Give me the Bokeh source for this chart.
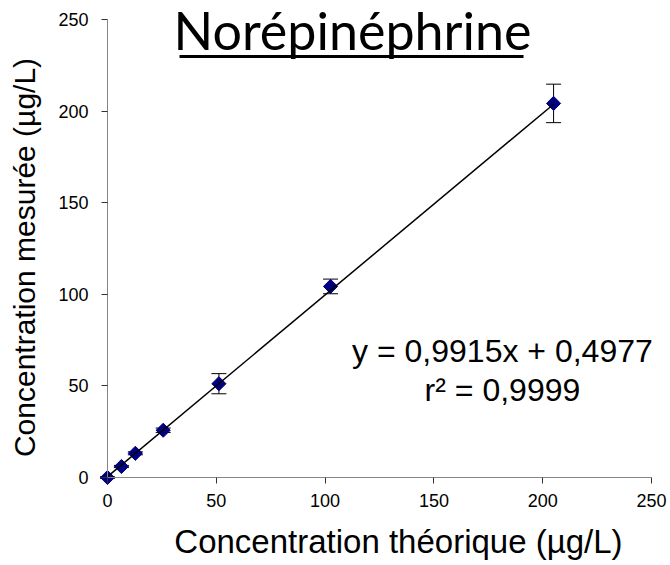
from bokeh.plotting import figure
from bokeh.models import ColumnDataSource, Whisker, TeeHead, Label, BoxAnnotation, Range1d, FixedTicker
from bokeh.embed import file_html
from bokeh.resources import INLINE
import math

# ---- data ----
x_theo = [0, 6.4, 12.8, 25.6, 51.2, 102.5, 205]
y_meas = [0, 6.0, 13.2, 25.8, 51.2, 104.3, 204.2]
y_err = [0.4, 0.6, 0.8, 1.2, 5.5, 4.0, 10.5]
slope = 0.9915
intercept = 0.4977
x_ticks = [0, 50, 100, 150, 200, 250]
y_ticks = [0, 50, 100, 150, 200, 250]
axis_min, axis_max = 0, 250
title_text = "Norépinéphrine"
eq_text = "y = 0,9915x + 0,4977"
r2_text = "r² = 0,9999"
x_label = "Concentration théorique (µg/L)"
y_label = "Concentration mesurée (µg/L)"

# layout geometry: the frame fills the canvas; axes sit at 0 with bounds 0..250
W, H = 670, 565
ax_left, ax_right, ax_top, ax_bottom = 107, 651, 19, 477  # pixel positions of the 0..250 box
sx = (ax_right - ax_left) / (axis_max - axis_min)
sy = (ax_bottom - ax_top) / (axis_max - axis_min)
x_range = Range1d(axis_min - ax_left / sx, axis_max + (W - ax_right) / sx)
y_range = Range1d(axis_min - (H - ax_bottom) / sy, axis_max + ax_top / sy)

p = figure(width=W, height=H, x_range=x_range, y_range=y_range,
           output_backend="svg", toolbar_location=None,
           min_border=0, min_border_left=0, min_border_right=0,
           min_border_top=0, min_border_bottom=0)
p.outline_line_color = None
p.xgrid.visible = False
p.ygrid.visible = False
p.background_fill_color = "white"
p.border_fill_color = "white"

for ax, ticks in ((p.xaxis, x_ticks), (p.yaxis, y_ticks)):
    ax.ticker = FixedTicker(ticks=ticks)
    ax.fixed_location = 0
    ax.bounds = (axis_min, axis_max)
    ax.axis_line_color = "#868686"
    ax.major_tick_line_color = "#333333"
    ax.minor_tick_line_color = None
    ax.major_tick_in = 0
    ax.major_tick_out = 6
    ax.major_label_text_font = "Liberation Sans"
    ax.major_label_text_font_size = "18px"
    ax.major_label_text_color = "black"

p.xaxis.major_label_standoff = 10
p.yaxis.major_label_standoff = 13

src = ColumnDataSource(dict(
    x=x_theo, y=y_meas,
    upper=[a + b for a, b in zip(y_meas, y_err)],
    lower=[a - b for a, b in zip(y_meas, y_err)],
))

p.add_layout(Whisker(base="x", upper="upper", lower="lower", source=src,
                     line_color="black", line_width=1,
                     upper_head=TeeHead(size=15, line_color="black", line_width=1),
                     lower_head=TeeHead(size=15, line_color="black", line_width=1)))

p.scatter(x="x", y="y", source=src, marker="square", size=10, angle=math.pi / 4,
          fill_color="#000080", line_color="#000080")

x_end = max(x_theo)
p.line(x=[0, x_end], y=[intercept, slope * x_end + intercept], line_color="black", line_width=1.5)

# title with underline
p.add_layout(Label(x=112.6, y=244.0, text=title_text, text_align="center", text_baseline="middle",
                   text_font="Lato", text_font_size="52px", text_color="black"))
p.add_layout(BoxAnnotation(left=33.1, right=191.2, bottom=229.0, top=230.6,
                           fill_color="black", fill_alpha=1, line_color=None))

# axis titles
p.add_layout(Label(x=133.7, y=-34.9, text=x_label, text_align="center", text_baseline="middle",
                   text_font="Liberation Sans", text_font_size="33px", text_color="black"))
p.add_layout(Label(x=-38.1, y=120.1, text=y_label, text_align="center", text_baseline="middle",
                   angle=math.pi / 2,
                   text_font="Liberation Sans", text_font_size="30px", text_color="black"))

# regression equation
p.add_layout(Label(x=181.5, y=69.3, text=eq_text, text_align="center", text_baseline="middle",
                   text_font="Liberation Sans", text_font_size="32px", text_color="black"))
p.add_layout(Label(x=181.5, y=47.5, text=r2_text, text_align="center", text_baseline="middle",
                   text_font="Liberation Sans", text_font_size="32px", text_color="black"))

open("out.html", "w").write(file_html(p, INLINE))
